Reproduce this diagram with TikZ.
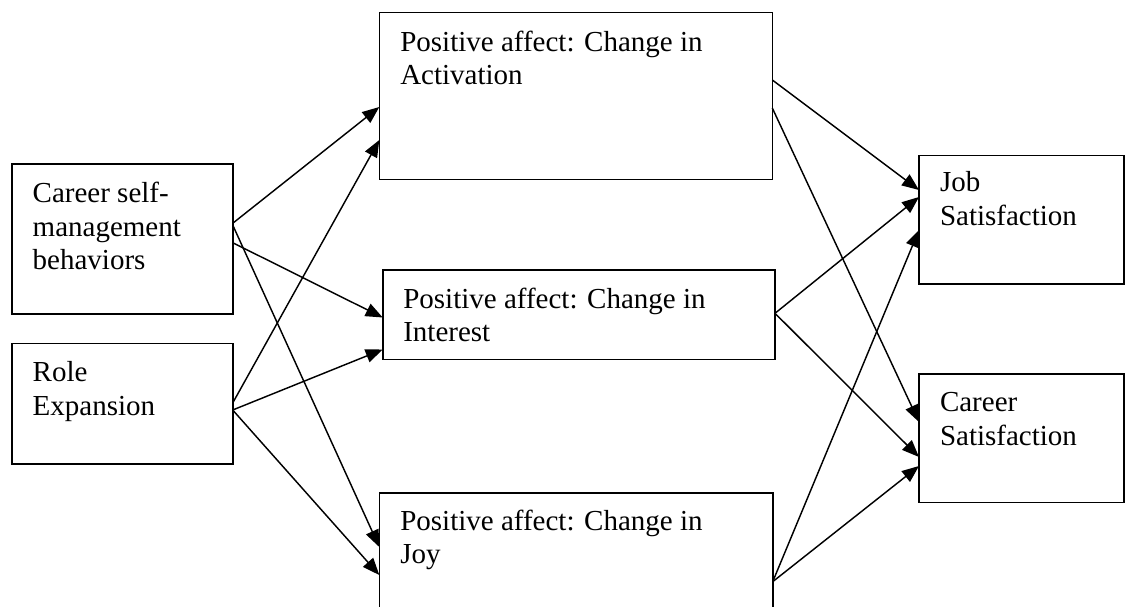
\documentclass[tikz,border=0pt]{standalone}
\usepackage{fontspec}
\setmainfont{Liberation Serif}
\usetikzlibrary{arrows.meta,calc}
\begin{document}
\begin{tikzpicture}[x=1pt,y=-1pt,
  box/.style={draw, line width=1.6pt, inner sep=0pt, outer sep=0pt, anchor=north west},
  lbl/.style={anchor=base west, inner sep=0pt, outer sep=0pt, font=\fontsize{29}{33.3}\selectfont},
  link/.style={line width=1.45pt, -{Triangle[length=17pt,width=13.5pt]}}]
\useasboundingbox (0,0) rectangle (1133,607);

% predictor boxes
\node[box, minimum width=221pt, minimum height=149.7pt] (career) at (11.7,164.3) {};
\node[box, minimum width=221pt, minimum height=120.5pt] (role) at (11.7,343.5) {};
% mediator boxes
\node[box, minimum width=393pt, minimum height=166.8pt] (act) at (379.3,12.7) {};
\node[box, minimum width=392.3pt, minimum height=89.5pt] (int) at (382.7,270) {};
\node[box, minimum width=393.4pt, minimum height=150pt] (joy) at (379.3,493) {};
% outcome boxes
\node[box, minimum width=205pt, minimum height=128.3pt] (job) at (919,155.7) {};
\node[box, minimum width=205pt, minimum height=128.3pt] (csat) at (919,374) {};

% box texts
\node[lbl] (careertxt) at ($(career.north west)+(21,38.7)$)
  {\begin{tabular}[t]{@{}l@{}}Career self-\\management\\behaviors\end{tabular}};
\node[lbl] (roletxt) at ($(role.north west)+(21,38.2)$)
  {\begin{tabular}[t]{@{}l@{}}Role\\Expansion\end{tabular}};
\node[lbl] (acttxt) at ($(act.north west)+(21,39)$)
  {\begin{tabular}[t]{@{}l@{}}Positive affect: Change in\\Activation\end{tabular}};
\node[lbl] (inttxt) at ($(int.north west)+(20.6,38)$)
  {\begin{tabular}[t]{@{}l@{}}Positive affect: Change in\\Interest\end{tabular}};
\node[lbl] (joytxt) at ($(joy.north west)+(21,37)$)
  {\begin{tabular}[t]{@{}l@{}}Positive affect: Change in\\Joy\end{tabular}};
\node[lbl] (jobtxt) at ($(job.north west)+(21,36)$)
  {\begin{tabular}[t]{@{}l@{}}Job\\Satisfaction\end{tabular}};
\node[lbl] (csattxt) at ($(csat.north west)+(21,37.7)$)
  {\begin{tabular}[t]{@{}l@{}}Career\\Satisfaction\end{tabular}};

% paths from the predictors
\draw[link] ($(career.north east)+(0,59)$)   -- ($(act.north west)+(0,94.3)$);
\draw[link] ($(career.north east)+(0,60.7)$) -- ($(joy.north west)+(0,54)$);
\draw[link] ($(career.north east)+(0,78.4)$) -- ($(int.north west)+(0,47.5)$);
\draw[link] ($(role.north east)+(0,59.5)$)   -- ($(act.north west)+(0,127.3)$);
\draw[link] ($(role.north east)+(0,66.5)$)   -- ($(int.north west)+(0,79.5)$);
\draw[link] ($(role.north east)+(0,66.5)$)   -- ($(joy.north west)+(0,82)$);

% paths to the outcomes
\draw[link] ($(act.north east)+(0,67.3)$) -- ($(job.north west)+(0,34.3)$);
\draw[link] ($(act.north east)+(0,95.3)$) -- ($(csat.north west)+(0,48)$);
\draw[link] ($(int.north east)+(0,43.3)$) -- ($(job.north west)+(0,41.3)$);
\draw[link] ($(int.north east)+(0,43.3)$) -- ($(csat.north west)+(0,83)$);
\draw[link] ($(joy.north east)+(0,88.7)$) -- ($(job.north west)+(0,74.3)$);
\draw[link] ($(joy.north east)+(0,88.7)$) -- ($(csat.north west)+(0,92)$);
\end{tikzpicture}
\end{document}
